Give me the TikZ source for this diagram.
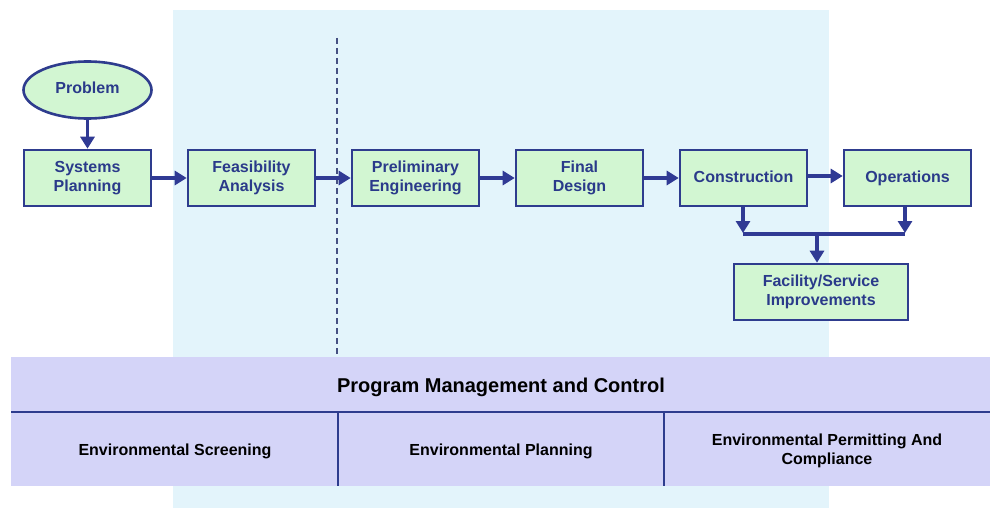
\documentclass[tikz,border=0pt]{standalone}
\usepackage{fontspec}
\setmainfont{Liberation Sans}
\usetikzlibrary{arrows.meta,shapes.geometric}
\definecolor{bluebg}{RGB}{227,244,251}
\definecolor{bandfill}{RGB}{212,212,248}
\definecolor{boxfill}{RGB}{210,246,210}
\definecolor{navy}{RGB}{46,60,142}
\definecolor{arrowblue}{RGB}{48,58,148}
\definecolor{txtblue}{RGB}{42,58,138}
\definecolor{dashcol}{RGB}{70,80,130}
\tikzset{
  stepbox/.style={draw=navy, line width=2.6pt, fill=boxfill, minimum width=127pt, minimum height=56pt,
    inner sep=0pt, align=center, text=txtblue, font=\fontsize{16}{19}\selectfont\bfseries},
  flowarrow/.style={draw=arrowblue, line width=3.2pt, -{Triangle[length=12pt,width=14pt]}},
  flowline/.style={draw=arrowblue, line width=3.2pt},
  bandtext/.style={align=center, text=black, font=\fontsize{16}{19}\selectfont\bfseries, inner sep=0pt},
  bandline/.style={draw=navy, line width=1.6pt},
}
\begin{document}
\begin{tikzpicture}[x=1pt,y=-1pt]
\useasboundingbox (0,0) rectangle (990,508);
% light blue background
\fill[bluebg] (173,10) rectangle (829,508);
% dashed divider
\draw[dashcol, line width=1.3pt, dash pattern=on 6pt off 4pt] (337,38) -- (337,357);
% bottom band
\fill[bandfill] (11,357) rectangle (990,486);
\draw[bandline] (11,412) -- (990,412);
\draw[bandline] (338,412) -- (338,486);
\draw[bandline] (664,412) -- (664,486);
\node[bandtext, font=\fontsize{20}{24}\selectfont\bfseries] (pmc) at (501,387) {Program Management and Control};
\node[bandtext] (envs) at (175,451) {Environmental Screening};
\node[bandtext] (envp) at (501,451) {Environmental Planning};
\node[bandtext] (envc) at (827,451) {Environmental Permitting And\\Compliance};
% flow nodes
\node[ellipse, draw=navy, line width=2.6pt, fill=boxfill, minimum width=128pt, minimum height=57pt,
  inner sep=0pt, text=txtblue, font=\fontsize{16}{19}\selectfont\bfseries] (prob) at (87.5,90) {\raisebox{5pt}{Problem}};
\node[stepbox] (sys) at (87.5,178) {Systems\\Planning};
\node[stepbox] (feas) at (251.5,178) {Feasibility\\Analysis};
\node[stepbox] (prel) at (415.5,178) {Preliminary\\Engineering};
\node[stepbox] (fin) at (579.5,178) {Final\\Design};
\node[stepbox] (cons) at (743.5,178) {\raisebox{3pt}{Construction}};
\node[stepbox] (ops) at (907.5,178) {\raisebox{3pt}{Operations}};
\node[stepbox, minimum width=174pt] (fac) at (821,292) {Facility/Service\\Improvements};
% connectors
\draw[flowarrow] (prob) -- (sys);
\draw[flowarrow] (sys) -- (feas);
\draw[flowarrow] (feas) -- (prel);
\draw[flowarrow] (prel) -- (fin);
\draw[flowarrow] (fin) -- (cons);
\draw[flowarrow] ([yshift=2pt]cons.east) -- ([yshift=2pt]ops.west);
\coordinate (j1) at (743,234);
\coordinate (j2) at (905,234);
\coordinate (jm) at (817,234);
\draw[flowline] (j1) -- (j2);
\draw[flowarrow] (cons.south -| j1) -- ([yshift=1pt]j1);
\draw[flowarrow] (ops.south -| j2) -- ([yshift=1pt]j2);
\draw[flowarrow] (jm) -- (fac.north -| jm);
\end{tikzpicture}
\end{document}
